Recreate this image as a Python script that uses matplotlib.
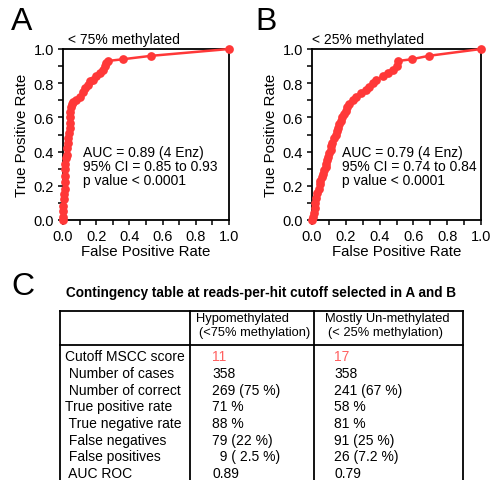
import matplotlib
matplotlib.use('Agg')
import matplotlib.pyplot as plt
from matplotlib.ticker import MultipleLocator

plt.rcParams['font.family'] = ['Liberation Sans', 'DejaVu Sans']

# ---------------- data ----------------
fpr_A = [0, 0, 0, 0, 0.005, 0.005, 0.01, 0.01, 0.01, 0.01, 0.015, 0.02, 0.025, 0.025,
         0.03, 0.03, 0.035, 0.04, 0.04, 0.045, 0.045, 0.05, 0.055, 0.06, 0.08, 0.10,
         0.12, 0.13, 0.15, 0.16, 0.18, 0.20, 0.22, 0.24, 0.25, 0.26, 0.27, 0.36, 0.53, 1.0]
tpr_A = [0, 0.02, 0.05, 0.08, 0.12, 0.15, 0.18, 0.22, 0.26, 0.30, 0.33, 0.36, 0.38, 0.42,
         0.45, 0.48, 0.51, 0.54, 0.57, 0.60, 0.63, 0.66, 0.68, 0.69, 0.70, 0.72,
         0.75, 0.77, 0.79, 0.81, 0.82, 0.84, 0.86, 0.88, 0.90, 0.92, 0.93, 0.94, 0.96, 1.0]

fpr_B = [0, 0.005, 0.01, 0.015, 0.02, 0.025, 0.03, 0.04, 0.045, 0.05, 0.06, 0.065, 0.07,
         0.08, 0.085, 0.09, 0.095, 0.10, 0.11, 0.115, 0.12, 0.13, 0.14, 0.145, 0.155,
         0.16, 0.17, 0.18, 0.19, 0.20, 0.21, 0.22, 0.24, 0.26, 0.29, 0.32, 0.34, 0.36,
         0.38, 0.42, 0.45, 0.48, 0.50, 0.51, 0.59, 0.69, 1.0]
tpr_B = [0, 0.02, 0.04, 0.07, 0.10, 0.13, 0.16, 0.18, 0.21, 0.23, 0.25, 0.27, 0.29,
         0.31, 0.33, 0.35, 0.37, 0.39, 0.41, 0.43, 0.45, 0.48, 0.50, 0.52, 0.54,
         0.56, 0.58, 0.60, 0.62, 0.64, 0.66, 0.68, 0.70, 0.72, 0.74, 0.76, 0.78, 0.80,
         0.82, 0.84, 0.86, 0.88, 0.90, 0.93, 0.94, 0.96, 1.0]

subtitle_A = "< 75% methylated"
subtitle_B = "< 25% methylated"
stats_A = ["AUC = 0.89 (4 Enz)", "95% CI = 0.85 to 0.93", "p value < 0.0001"]
stats_B = ["AUC = 0.79 (4 Enz)", "95% CI = 0.74 to 0.84", "p value < 0.0001"]

table_title = "Contingency table at reads-per-hit cutoff selected in A and B"
col_headers = [["Hypomethylated", "(<75% methylation)"],
               ["Mostly Un-methylated", "(< 25% methylation)"]]
row_labels = ["Cutoff MSCC score", " Number of cases", " Number of correct",
              "True positive rate", " True negative rate", " False negatives",
              " False positives", " AUC ROC"]
col1_values = ["11", "358", "269 (75 %)", "71 %", "88 %", "79 (22 %)", "  9 ( 2.5 %)", "0.89"]
col2_values = ["17", "358", "241 (67 %)", "58 %", "81 %", "91 (25 %)", "26 (7.2 %)", "0.79"]

# ---------------- figure ----------------
W, H = 494, 481
fig = plt.figure(figsize=(W / 100, H / 100), dpi=100)

def add_ax(l, t, r, b):
    return fig.add_axes([l / W, 1 - b / H, (r - l) / W, (b - t) / H])

RED = '#ff3838'
FS = 10

def roc(ax, fpr, tpr, subtitle, stats, stat_x, sub_x):
    ax.plot(fpr, tpr, '-o', color=RED, lw=1.8, ms=6.3, mew=0, clip_on=False, zorder=3)
    ax.set_xlim(0, 1)
    ax.set_ylim(0, 1)
    ax.xaxis.set_major_locator(MultipleLocator(0.2))
    ax.yaxis.set_major_locator(MultipleLocator(0.2))
    ax.xaxis.set_minor_locator(MultipleLocator(0.1))
    ax.yaxis.set_minor_locator(MultipleLocator(0.1))
    ax.xaxis.set_major_formatter(plt.FormatStrFormatter('%.1f'))
    ax.yaxis.set_major_formatter(plt.FormatStrFormatter('%.1f'))
    ax.tick_params(which='both', direction='out', length=3.5, width=1.1,
                   labelsize=10.5, pad=3)
    for s in ax.spines.values():
        s.set_linewidth(1.3)
    ax.set_xlabel("False Positive Rate", fontsize=10.8, labelpad=1)
    ax.set_ylabel("True Positive Rate", fontsize=10.8, labelpad=3)
    ax.text(sub_x, 1.015, subtitle, transform=ax.transAxes, fontsize=FS,
            ha='left', va='bottom')
    for i, s in enumerate(stats):
        ax.text(stat_x, 0.40 - i * 0.084, s, transform=ax.transAxes,
                fontsize=FS, ha='left', va='center')

axA = add_ax(63, 50, 229, 221)
axB = add_ax(312, 50, 481, 221)
roc(axA, fpr_A, tpr_A, subtitle_A, stats_A, 0.12, 0.03)
roc(axB, fpr_B, tpr_B, subtitle_B, stats_B, 0.175, 0.0)

# overlay for panel letters and table
ov = fig.add_axes([0, 0, 1, 1], zorder=-1)
ov.set_xlim(0, W)
ov.set_ylim(H, 0)
ov.axis('off')

ov.text(11, 22, "A", fontsize=23, ha='left', va='center')
ov.text(255, 22, "B", fontsize=23, ha='left', va='center')
ov.text(11, 287, "C", fontsize=23, ha='left', va='center')

ov.text(261, 293, table_title, fontsize=9.8, fontweight='bold', ha='center', va='center')

lw = 1.3
L, R, T, HB, BOT = 60, 463, 311.5, 345.5, 482
C1, C2 = 190, 314
ov.plot([L, R], [T, T], color='black', lw=lw)
ov.plot([L, R], [HB, HB], color='black', lw=lw)
for x in (L, C1, C2, R):
    ov.plot([x, x], [T, BOT], color='black', lw=lw, clip_on=False)

HFS = 9.3
ov.text(196, 319, col_headers[0][0], fontsize=HFS, ha='left', va='center')
ov.text(199, 333.5, col_headers[0][1], fontsize=HFS, ha='left', va='center')
ov.text(325, 319, col_headers[1][0], fontsize=HFS, ha='left', va='center')
ov.text(328, 333.5, col_headers[1][1], fontsize=HFS, ha='left', va='center')

TFS = 10
row_y = [357.5, 374, 390.7, 407.3, 424, 440.7, 457.3, 474]
for i, (lab, v1, v2) in enumerate(zip(row_labels, col1_values, col2_values)):
    y = row_y[i]
    ov.text(65, y, lab, fontsize=TFS, ha='left', va='center')
    c = '#ff6060' if i == 0 else 'black'
    ov.text(212, y, v1, fontsize=TFS, ha='left', va='center', color=c)
    ov.text(334, y, v2, fontsize=TFS, ha='left', va='center', color=c)

fig.savefig('out.png', dpi=100)
